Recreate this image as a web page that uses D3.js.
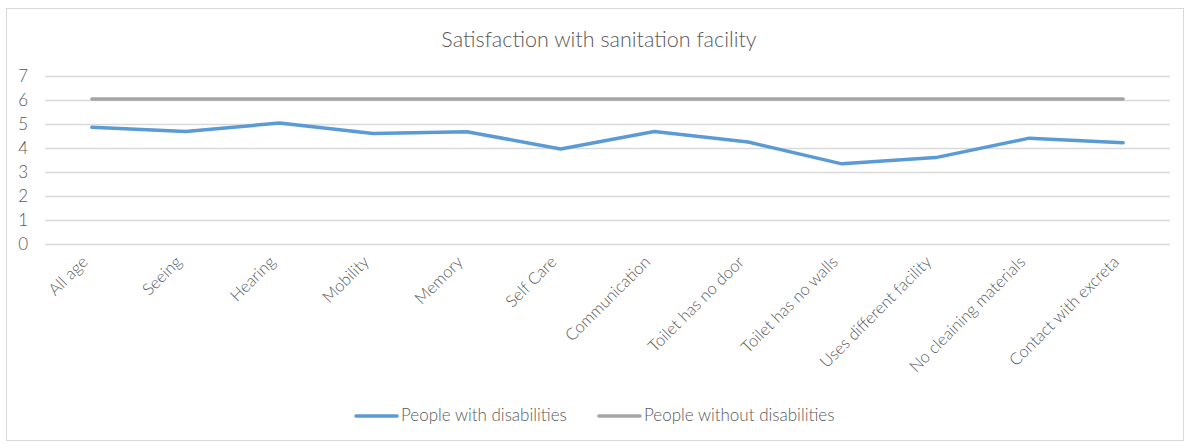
<!DOCTYPE html>
<html><head><meta charset="utf-8">
<script src="https://cdn.jsdelivr.net/npm/d3@7"></script>
<style>body{margin:0;background:#fff}svg{display:block}text{font-family:Lato,"Open Sans",sans-serif;fill:#595959}</style>
</head><body>
<svg id="c" width="1190" height="448"></svg>
<script>
const categories=["All age","Seeing","Hearing","Mobility","Memory","Self Care","Communication","Toilet has no door","Toilet has no walls","Uses different facility","No cleaining materials","Contact with excreta"];
const withDis=[4.86,4.69,5.04,4.6,4.68,3.96,4.69,4.25,3.34,3.6,4.41,4.22];
const withoutDis=[6.04,6.04,6.04,6.04,6.04,6.04,6.04,6.04,6.04,6.04,6.04,6.04];
const yTicks=[0,1,2,3,4,5,6,7];
const seriesNames=["People with disabilities","People without disabilities"];
const colors=["#5b9bd5","#a5a5a5"];

const svg=d3.select("#c");
svg.append("rect").attr("x",6.5).attr("y",8.5).attr("width",1177).attr("height",432).attr("fill","#fff").attr("stroke","#d9d9d9");
svg.append("text").attr("x",599).attr("y",47).attr("text-anchor","middle").style("font-size","21.5px").style("font-weight","300").text("Satisfaction with sanitation facility");

const x=d3.scaleBand().domain(categories).range([45,1170]);
const y=d3.scaleLinear().domain([0,7]).range([244,76]);

const yAxis=svg.append("g").attr("transform","translate(45,0)").call(d3.axisLeft(y).tickValues(yTicks).tickSize(-1125).tickPadding(17).tickFormat(d3.format("d")));
yAxis.select(".domain").remove();
yAxis.selectAll("line").attr("stroke","#d9d9d9").attr("stroke-width",1.3);
yAxis.selectAll("text").style("font-size","17px").style("font-weight","300").attr("fill","#595959");

const xAxis=svg.append("g").attr("transform","translate(0,244)").call(d3.axisBottom(x).tickSize(0));
xAxis.select(".domain").remove();
xAxis.selectAll("text").style("font-size","16.5px").style("font-weight","300").attr("text-anchor","end").attr("dy","0")
 .attr("transform","translate(-3,19) rotate(-45)").attr("x",0).attr("y",0);

const line=d3.line().x((d,i)=>x(categories[i])+x.bandwidth()/2).y(d=>y(d));
[withoutDis,withDis].forEach((s,k)=>{
  svg.append("path").datum(s).attr("d",line).attr("fill","none")
   .attr("stroke",colors[1-k]).attr("stroke-width",3.5).attr("stroke-linecap","round").attr("stroke-linejoin","round");
});

const legX=[356,599];
seriesNames.forEach((n,i)=>{
  svg.append("line").attr("x1",legX[i]).attr("x2",legX[i]+41).attr("y1",416).attr("y2",416).attr("stroke",colors[i]).attr("stroke-width",3.5).attr("stroke-linecap","round");
  svg.append("text").attr("x",legX[i]+45).attr("y",421).style("font-size","17px").style("font-weight","300").text(n);
});
</script>
</body></html>
